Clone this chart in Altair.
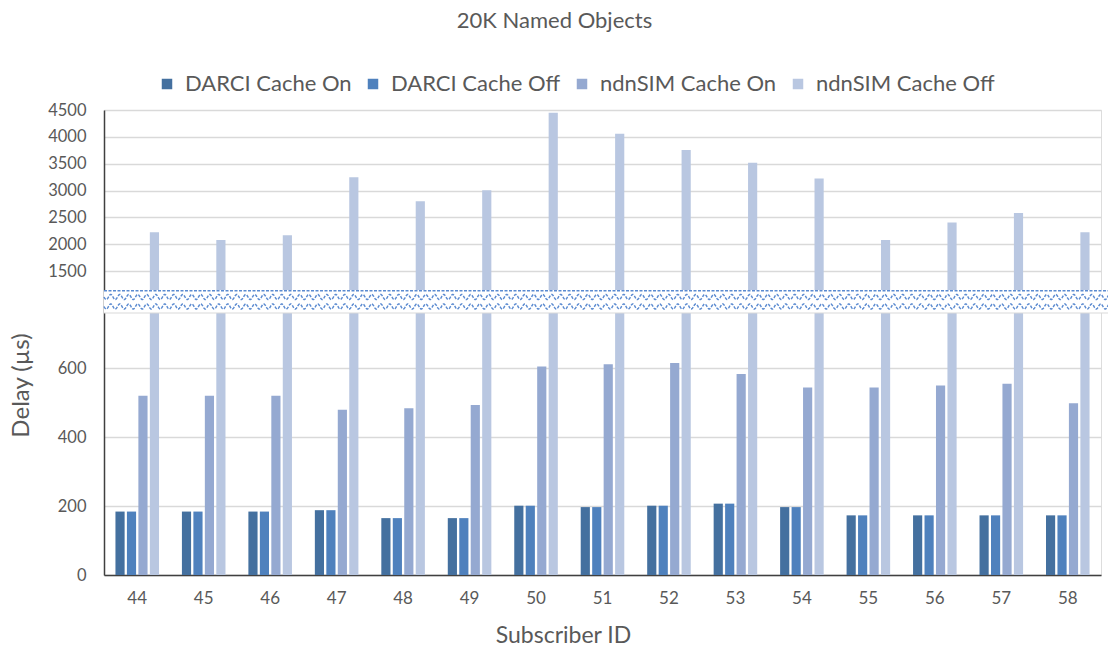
import altair as alt
import pandas as pd

# Subscriber IDs and measured delays (µs)
subscriber_ids = [44, 45, 46, 47, 48, 49, 50, 51, 52, 53, 54, 55, 56, 57, 58]
darci_cache_on = [184, 184, 184, 188, 165, 165, 201, 197, 201, 207, 197, 173, 173, 173, 173]
darci_cache_off = [184, 184, 184, 188, 165, 165, 201, 197, 201, 207, 197, 173, 173, 173, 173]
ndnsim_cache_on = [520, 520, 520, 479, 484, 493, 605, 611, 615, 583, 544, 544, 550, 555, 498]
ndnsim_cache_off = [2225, 2080, 2169, 3248, 2801, 3006, 4450, 4060, 3756, 3520, 3223, 2080, 2404, 2584, 2225]

series_names = ["DARCI Cache On", "DARCI Cache Off", "ndnSIM Cache On", "ndnSIM Cache Off"]
series_colors = ["#44709f", "#4f81bd", "#95a9d1", "#b9c7e1"]
y_ticks = [0, 200, 400, 600, 1500, 2000, 2500, 3000, 3500, 4000, 4500]

rows = []
for name, vals in zip(series_names, [darci_cache_on, darci_cache_off, ndnsim_cache_on, ndnsim_cache_off]):
    for sid, v in zip(subscriber_ids, vals):
        rows.append({"Subscriber ID": str(sid), "series": name, "delay": v})
df = pd.DataFrame(rows)

W, H = 997, 465
FONT = "Lato"
TXT = "#595959"
BREAK_TOP, BREAK_BOTTOM = 180, 203  # pixel rows of the axis break band

# Broken y axis: piecewise linear scale, 0-760 below the break, 1150-4500 above
y_scale = alt.Scale(domain=[0, 760, 1150, 4500], range=[H, BREAK_BOTTOM, BREAK_TOP, 0],
                    nice=False, zero=False)

bars = alt.Chart(df).mark_bar().encode(
    x=alt.X("Subscriber ID:N", sort=[str(s) for s in subscriber_ids],
            scale=alt.Scale(paddingInner=0.31, paddingOuter=0.155),
            axis=alt.Axis(title="Subscriber ID", labelAngle=0, ticks=False, labelFontSize=17,
                          labelColor=TXT, labelFont=FONT, labelPadding=15,
                          domainColor="#404040", domainWidth=1.5,
                          titleFont=FONT, titleFontSize=23, titleFontWeight="normal",
                          titleColor=TXT, titleX=459, titleY=67, titleBaseline="alphabetic")),
    xOffset=alt.XOffset("series:N", sort=series_names,
                        scale=alt.Scale(paddingInner=0.2, paddingOuter=0.1)),
    y=alt.Y("delay:Q", scale=y_scale,
            axis=alt.Axis(title="Delay (µs)", values=y_ticks, format="d", ticks=False,
                          labelFontSize=16.5, labelColor=TXT, labelFont=FONT, labelPadding=18,
                          domainColor="#404040", domainWidth=1.5,
                          gridColor="#d9d9d9", gridWidth=1.3,
                          titleFont=FONT, titleFontSize=24, titleFontWeight="normal",
                          titleColor=TXT, titleX=-83, titleY=275,
                          titleAlign="center", titleBaseline="middle")),
    color=alt.Color("series:N", sort=series_names,
                    scale=alt.Scale(domain=series_names, range=series_colors),
                    legend=alt.Legend(title=None, orient="none", direction="horizontal",
                                      legendX=52, legendY=-37, symbolType="square",
                                      symbolSize=110, symbolStrokeWidth=0,
                                      labelFontSize=22, labelFont=FONT, labelColor=TXT,
                                      labelLimit=0, labelOffset=7, columnPadding=10)),
)

# White band that hides the bars across the break
band = alt.Chart(alt.Data(values=[{}])).mark_rect(color="white").encode(
    x=alt.value(0), x2=alt.value(W + 7), y=alt.value(BREAK_TOP), y2=alt.value(BREAK_BOTTOM)
)
band_edge = alt.Chart(alt.Data(values=[{}])).mark_rule(color="#d9d9d9", strokeWidth=1).encode(
    x=alt.value(0), x2=alt.value(W + 7), y=alt.value(BREAK_BOTTOM)
)

# Wavy dashed lines marking the break
waves = alt.Chart(alt.sequence(0, W + 8, 0.5, as_="wx")).transform_calculate(
    top="0.8",
    wave1="7 + 2.6 * sin(2 * PI * datum.wx / 9)",
    wave2="16.5 + 2.6 * sin(2 * PI * datum.wx / 9)",
).transform_fold(["top", "wave1", "wave2"], as_=["row", "wy"]).mark_line(
    color="#5a8ad0", strokeWidth=1.5, strokeDash=[3, 1.5]
).encode(
    x=alt.X("wx:Q", scale=alt.Scale(domain=[0, W], range=[0, W], nice=False, zero=False), axis=None),
    y=alt.Y("wy:Q", scale=alt.Scale(domain=[0, 23], range=[BREAK_TOP, BREAK_BOTTOM],
                                    nice=False, zero=False), axis=None),
    detail="row:N",
)

chart = alt.layer(bars, band, band_edge, waves).resolve_scale(
    x="independent", y="independent"
).properties(
    width=W, height=H,
    title=alt.Title("20K Named Objects", font=FONT, fontSize=22, fontWeight="normal",
                    color=TXT, anchor="middle", frame="group", dx=-48, offset=40),
    autosize=alt.AutoSizeParams(type="none"),
    padding={"left": 104, "top": 110, "right": 7, "bottom": 73},
).configure_view(stroke=None).configure(background="white")

chart.save("out.html", embed_options={"renderer": "svg", "actions": False})
